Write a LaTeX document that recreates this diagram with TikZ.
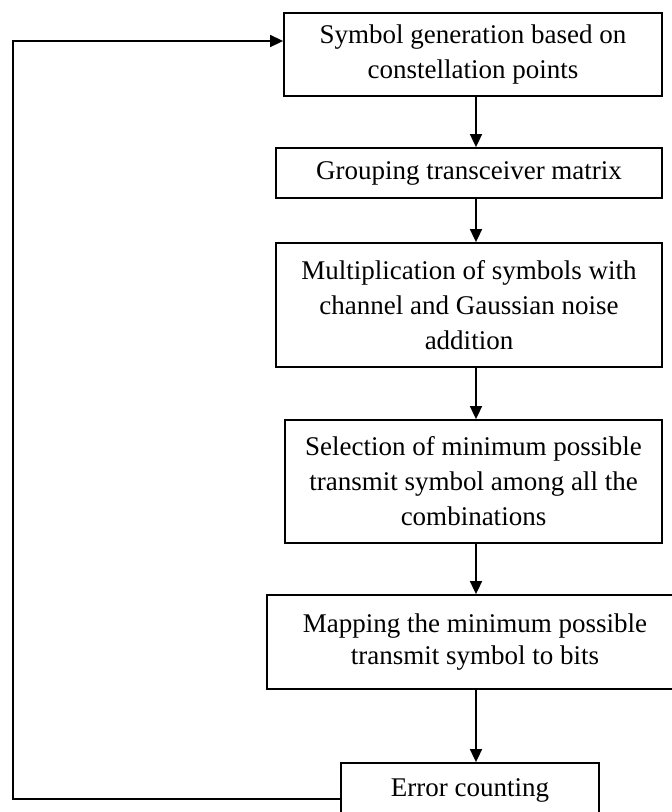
\documentclass[tikz,border=0pt]{standalone}
\usepackage{fontspec}
\setmainfont{Liberation Serif}
\usetikzlibrary{arrows.meta}
\tikzset{
  flowbox/.style={draw, line width=1.8pt, inner sep=0pt, align=center,
    font=\fontsize{27pt}{35pt}\selectfont},
  flowarrow/.style={line width=1.6pt, -{Triangle[length=13pt,width=12pt]}},
}
\begin{document}
\begin{tikzpicture}[x=1pt,y=-1pt]
  \useasboundingbox (0,0) rectangle (672,812);
  \clip (0,0) rectangle (672,812);

  % processing steps, top to bottom
  \node[flowbox, minimum width=378pt, minimum height=83pt] (gen) at (473,54.5)
    {Symbol generation based on\\constellation points};
  \node[flowbox, minimum width=386pt, minimum height=50pt] (grp) at (469,173)
    {Grouping transceiver matrix};
  \node[flowbox, minimum width=386pt, minimum height=124pt] (mul) at (469,305)
    {Multiplication of symbols with\\channel and Gaussian noise\\addition};
  \node[flowbox, minimum width=377pt, minimum height=123pt] (sel) at (473.5,481.5)
    {Selection of minimum possible\\transmit symbol among all the\\combinations};
  \node[flowbox, minimum width=416pt, minimum height=94pt,
        font=\fontsize{27pt}{32pt}\selectfont] (map) at (475,642)
    {Mapping the minimum possible\\transmit symbol to bits};
  \node[flowbox, minimum width=258pt, minimum height=54pt] (err) at (470,790)
    {Error counting};

  % vertical flow arrows share one x position
  \coordinate (ax) at (476,0);
  \draw[flowarrow] (gen.south -| ax) -- (grp.north -| ax);
  \draw[flowarrow] (grp.south -| ax) -- (mul.north -| ax);
  \draw[flowarrow] (mul.south -| ax) -- (sel.north -| ax);
  \draw[flowarrow] (sel.south -| ax) -- (map.north -| ax);
  \draw[flowarrow] (map.south -| ax) -- (err.north -| ax);

  % feedback loop from error counting back to symbol generation
  \coordinate (lb) at (13,799);
  \coordinate (lt) at (13,41);
  \draw[flowarrow] (err.west |- lb) -- (lb) -- (lt) -- (lt -| gen.west);
\end{tikzpicture}
\end{document}
